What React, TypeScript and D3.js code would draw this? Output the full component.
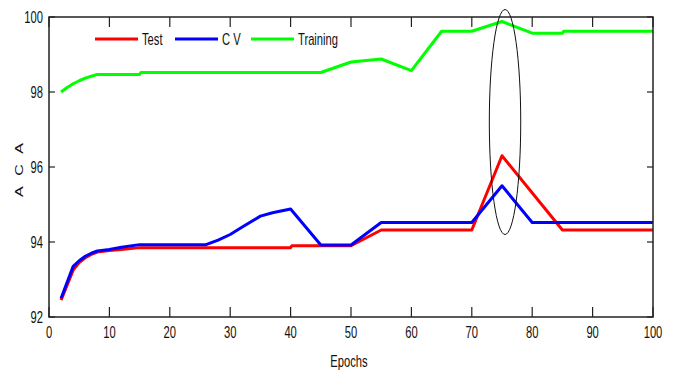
import React from "react";
import * as d3 from "d3";

const testEpochs = [2, 4, 5, 6, 7, 8, 10, 12, 15, 40, 40.2, 50, 55, 70, 75, 85, 100];
const testValues = [92.45, 93.25, 93.45, 93.58, 93.67, 93.73, 93.77, 93.8, 93.85, 93.85, 93.9, 93.9, 94.32, 94.32, 96.3, 94.32, 94.32];

const cvEpochs = [2, 4, 5, 6, 7, 8, 10, 12, 15, 26, 28, 30, 32, 35, 37, 40, 45, 50, 55, 70, 75, 80, 100];
const cvValues = [92.5, 93.35, 93.5, 93.62, 93.7, 93.76, 93.8, 93.86, 93.93, 93.93, 94.05, 94.2, 94.4, 94.69, 94.78, 94.88, 93.92, 93.92, 94.52, 94.52, 95.5, 94.52, 94.52];

const trainEpochs = [2, 3, 4, 5, 6, 7, 8, 15, 15.2, 45, 50, 55, 60, 65, 70, 75, 80, 85, 85.2, 100];
const trainValues = [98.0, 98.12, 98.22, 98.3, 98.37, 98.42, 98.47, 98.47, 98.52, 98.52, 98.8, 98.88, 98.57, 99.62, 99.62, 99.88, 99.57, 99.57, 99.62, 99.62];

const xTicks = [0, 10, 20, 30, 40, 50, 60, 70, 80, 90, 100];
const yTicks = [92, 94, 96, 98, 100];

const seriesNames = ["Test", "C V", "Training"];
const seriesColors = ["#ff0000", "#0000ff", "#00ff00"];

// highlighted region (ellipse) in data units: center epoch, center value, half-width epochs, half-height value
const ellipseData = [75.5, 97.2, 2.6, 3.0];

const W = 673;
const H = 372;
const left = 49;
const right = 653;
const top = 17;
const bottom = 317;

const FONT = "'Liberation Sans', Arial, sans-serif";
const SX = 0.7;

export default function App() {
  const x = d3.scaleLinear().domain([0, 100]).range([left, right]);
  const y = d3.scaleLinear().domain([92, 100]).range([bottom, top]);

  const line = d3
    .line<[number, number]>()
    .x((d) => x(d[0]))
    .y((d) => y(d[1]));

  const series = [
    { e: testEpochs, v: testValues },
    { e: cvEpochs, v: cvValues },
    { e: trainEpochs, v: trainValues },
  ];

  const legendX = [95, 175, 251];

  const ex = x(ellipseData[0]);
  const ey = y(ellipseData[1]);
  const erx = x(ellipseData[0] + ellipseData[2]) - ex;
  const ery = y(ellipseData[1] - ellipseData[3]) - ey;

  const txt = (
    tx: number,
    ty: number,
    s: string,
    anchor: "start" | "middle" | "end",
    key?: string
  ) => (
    <text
      key={key}
      transform={`translate(${tx},${ty}) scale(${SX},1)`}
      textAnchor={anchor}
      fontFamily={FONT}
      fontSize={16}
      fill="#111"
    >
      {s}
    </text>
  );

  return (
    <svg
      width={W}
      height={H}
      style={{ position: "absolute", left: 0, top: 0, background: "#fff" }}
    >
      <rect x={0} y={0} width={W} height={H} fill="#fff" />
      {/* data lines */}
      {series.map((s, i) => (
        <path
          key={i}
          d={line(s.e.map((e, j) => [e, s.v[j]] as [number, number])) || ""}
          fill="none"
          stroke={seriesColors[i]}
          strokeWidth={3}
          strokeLinejoin="round"
        />
      ))}
      {/* axes box */}
      <rect
        x={left}
        y={top}
        width={right - left}
        height={bottom - top}
        fill="none"
        stroke="#222"
        strokeWidth={1.5}
      />
      {xTicks.map((t) => (
        <g key={"xt" + t}>
          <line x1={x(t)} x2={x(t)} y1={bottom} y2={bottom - 10} stroke="#222" strokeWidth={1.2} />
          <line x1={x(t)} x2={x(t)} y1={top} y2={top + 10} stroke="#222" strokeWidth={1.2} />
          {txt(x(t), bottom + 21, String(t), "middle")}
        </g>
      ))}
      {yTicks.map((t) => (
        <g key={"yt" + t}>
          <line x1={left} x2={left + 6} y1={y(t)} y2={y(t)} stroke="#222" strokeWidth={1.2} />
          <line x1={right} x2={right - 6} y1={y(t)} y2={y(t)} stroke="#222" strokeWidth={1.2} />
          {txt(left - 6, y(t) + 6, String(t), "end")}
        </g>
      ))}
      {/* axis labels */}
      {txt(349, 367, "Epochs", "middle")}
      <text
        transform={`translate(23,170) rotate(-90) scale(1,${SX})`}
        textAnchor="middle"
        fontFamily={FONT}
        fontSize={16}
        fill="#111"
        textLength={54}
        lengthAdjust="spacing"
      >
        A C A
      </text>
      {/* legend */}
      {seriesNames.map((n, i) => (
        <g key={"lg" + i}>
          <line
            x1={legendX[i]}
            x2={legendX[i] + 43}
            y1={39}
            y2={39}
            stroke={seriesColors[i]}
            strokeWidth={3}
          />
          {txt(legendX[i] + 47, 45, n, "start")}
        </g>
      ))}
      {/* ellipse highlight */}
      <ellipse cx={ex} cy={ey} rx={erx} ry={ery} fill="none" stroke="#111" strokeWidth={1} />
    </svg>
  );
}
